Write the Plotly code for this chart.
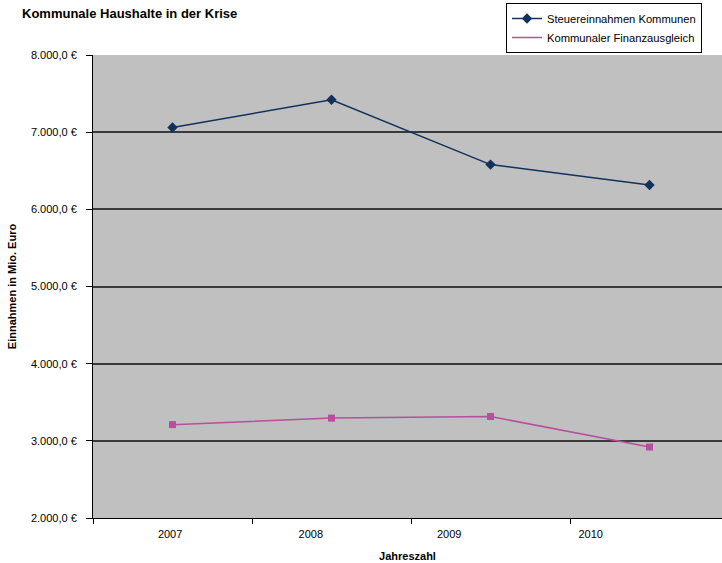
import plotly.graph_objects as go

years = ["2007", "2008", "2009", "2010"]
steuer = [7060, 7420, 6580, 6315]
finanz = [3210, 3295, 3315, 2920]
y_ticks = [2000, 3000, 4000, 5000, 6000, 7000, 8000]

x_idx = list(range(len(years)))
label_pos = [-0.015, 0.87, 1.74, 2.63]
boundaries = [-0.5, 0.5, 1.5, 2.5]


def euro(v):
    s = f"{v:,.1f}".replace(",", "X").replace(".", ",").replace("X", ".")
    return s + " €"


y_text = [euro(v) for v in y_ticks]

navy = "#12315C"
pink = "#B4509E"
font = "Liberation Sans, Arial, sans-serif"

fig = go.Figure()
fig.add_trace(go.Scatter(
    x=x_idx, y=steuer, mode="lines+markers", name="Steuereinnahmen Kommunen",
    line=dict(color=navy, width=1.5),
    marker=dict(symbol="diamond", size=8, color=navy),
))
fig.add_trace(go.Scatter(
    x=x_idx, y=finanz, mode="lines+markers", name="Kommunaler Finanzausgleich",
    line=dict(color=pink, width=1.5),
    marker=dict(symbol="square", size=7, color=pink),
    showlegend=False,
))
fig.add_trace(go.Scatter(
    x=[None], y=[None], mode="lines", name="Kommunaler Finanzausgleich",
    line=dict(color=pink, width=1.5),
))

fig.update_layout(
    width=722, height=563,
    margin=dict(l=93, r=0, t=55, b=45, autoexpand=False),
    paper_bgcolor="white",
    plot_bgcolor="#C0C0C0",
    font=dict(family=font, size=11, color="black"),
    title=dict(text="<b>Kommunale Haushalte in der Krise</b>", x=22/722, xanchor="left",
               xref="container", y=1-13/563, yanchor="middle", yref="container",
               font=dict(size=13, family=font)),
    legend=dict(x=(506-93)/629, y=(518-3)/463, xanchor="left", yanchor="top",
                bgcolor="white", bordercolor="black", borderwidth=1,
                font=dict(size=11.2, family=font), tracegroupgap=0, itemwidth=30),
    showlegend=True,
)
fig.update_xaxes(
    range=[-0.5, -0.5 + 629/159], tickmode="array", tickvals=label_pos, ticktext=years,
    ticks="", showgrid=False, zeroline=False, automargin=False,
    showline=True, linecolor="black", linewidth=1, ticklabelstandoff=6,
    minor=dict(tickmode="array", tickvals=boundaries, ticks="outside", ticklen=5,
               tickcolor="black", showgrid=False),
    title=dict(text="<b>Jahreszahl</b>", standoff=13, font=dict(size=11)),
    tickfont=dict(size=11),
)
fig.update_yaxes(
    range=[2000, 8000], tickmode="array", tickvals=y_ticks, ticktext=y_text,
    ticks="outside", ticklen=6, tickcolor="black", automargin=False,
    showgrid=True, gridcolor="#3A3A3A", gridwidth=1.5, zeroline=False,
    showline=True, linecolor="black", linewidth=1, ticklabelstandoff=7,
    title=dict(text="<b>Einnahmen in Mio. Euro</b>", standoff=12, font=dict(size=11)),
    tickfont=dict(size=11),
)

fig.write_html("out.html", config={"displayModeBar": False},
               post_script="document.body.style.margin='0';document.body.style.overflow='hidden';")
